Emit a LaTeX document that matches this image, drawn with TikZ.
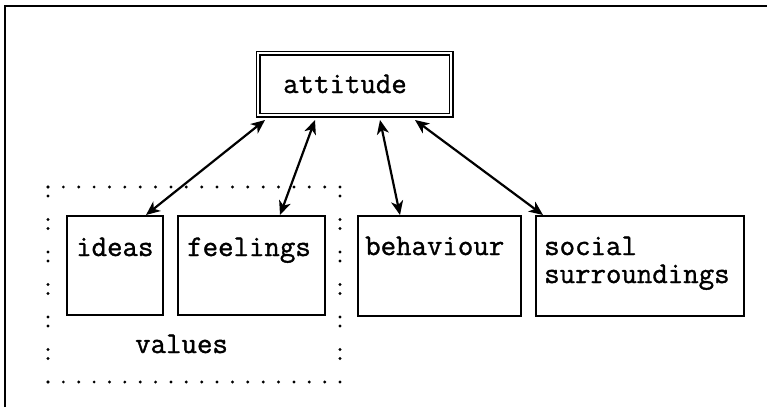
\documentclass[tikz,border=0pt]{standalone}
\usepackage{fontspec}
\newfontfamily\ttheavy{Latin Modern Mono}[FakeBold=1.2]
\usetikzlibrary{arrows.meta,calc}
\tikzset{
  box/.style={draw, line width=1.8pt, rectangle, inner sep=0pt, anchor=north west},
  txt/.style={inner sep=0pt, anchor=base west, font=\fontsize{30}{28}\selectfont\ttheavy, align=left},
  link/.style={line width=2.2pt, {Stealth[length=14pt,width=12pt,inset=4pt]}-{Stealth[length=14pt,width=12pt,inset=4pt]}},
  dotrow/.style={line width=3.2pt, line cap=round, dash pattern=on 0pt off 15.37pt},
  dotcol/.style={line width=3.2pt, line cap=round, dash pattern=on 0pt off 9pt on 0pt off 23.5pt},
}
\begin{document}
\begin{tikzpicture}[x=1pt,y=1pt]
\useasboundingbox (0,0) rectangle (767,-407);
\fill[white] (0,0) rectangle (767,-407);
% outer frame (left and top edges)
\draw[line width=2.6pt] (5,-407) -- (5,-6) -- (767,-6);
% attitude
\node[box, double, double distance=2.2pt, line width=1.5pt, minimum width=193pt, minimum height=62pt] (att) at (257.5,-52.5) {};
\node[txt] (tatt) at (283,-93) {attitude};
% values group
\coordinate (vtl) at (48,-187);
\coordinate (vtr) at (340,-187);
\coordinate (vbl) at (48,-382);
\coordinate (vbr) at (340,-382);
\draw[dotrow] (vtl) -- (vtr);
\draw[dotrow] (vbl) -- (vbr);
\draw[dotcol] (vtl) -- (vbl);
\draw[dotcol] (vtr) -- (vbr);
\node[txt] (tval) at (135,-353) {values};
% boxes
\node[box, minimum width=96pt, minimum height=99pt] (ideas) at (66,-215) {};
\node[box, minimum width=147pt, minimum height=99pt] (feel) at (177,-215) {};
\node[box, minimum width=163pt, minimum height=100pt] (beh) at (357,-215) {};
\node[box, minimum width=208pt, minimum height=100pt] (soc) at (535,-215) {};
\node[txt] (tideas) at (76,-256) {ideas};
\node[txt] (tfeel) at (187,-256) {feelings};
\node[txt] (tbeh) at (365,-255) {behaviour};
\node[txt] (tsoc) at (544,-283) {social\\surroundings};
% connectors
\draw[link] ([xshift=7.5pt,yshift=-4pt]att.south west) -- ([xshift=80pt]ideas.north west);
\draw[link] ([xshift=57.5pt,yshift=-4pt]att.south west) -- ([xshift=103pt]feel.north west);
\draw[link] ([xshift=122.5pt,yshift=-4pt]att.south west) -- ([xshift=43pt]beh.north west);
\draw[link] ([xshift=157.5pt,yshift=-4pt]att.south west) -- ([xshift=8pt]soc.north west);
\end{tikzpicture}
\end{document}
